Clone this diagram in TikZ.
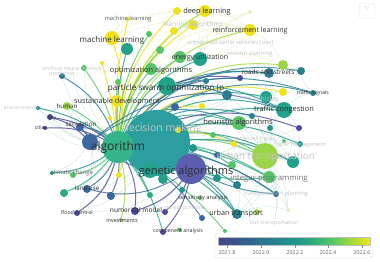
\documentclass[tikz,border=0pt]{standalone}
\usepackage{fontspec}
\setmainfont{Open Sans}
\pgfdeclarelayer{back}
\pgfdeclarelayer{edges}
\pgfsetlayers{back,edges,main}
\definecolor{v0}{HTML}{414487}
\definecolor{v1}{HTML}{39568C}
\definecolor{v2}{HTML}{2F6C8E}
\definecolor{v3}{HTML}{26828E}
\definecolor{v4}{HTML}{1F978B}
\definecolor{v5}{HTML}{2BAC7F}
\definecolor{v6}{HTML}{55C568}
\definecolor{v7}{HTML}{A0DA39}
\definecolor{v8}{HTML}{F2E51D}
\definecolor{cbig}{HTML}{2C9EA0}
\definecolor{calg}{HTML}{35B38B}
\definecolor{cgen}{HTML}{5C5DAE}
\definecolor{cyel}{HTML}{EDE21C}
\definecolor{clime}{HTML}{9AD545}
\definecolor{cgrn}{HTML}{55C366}
\definecolor{cteal}{HTML}{22A18B}
\definecolor{cdt}{HTML}{2D7A95}
\definecolor{cblu}{HTML}{3D67A0}
\definecolor{cpur}{HTML}{4A489C}
\definecolor{fedge}{HTML}{C9E4E4}
\definecolor{fyel}{HTML}{ECEFC2}
\definecolor{fad}{HTML}{C4C4C4}
\pgfdeclarehorizontalshading{vir}{100bp}{color(0bp)=(v0); color(25bp)=(v0); color(31.25bp)=(v1); color(37.5bp)=(v2); color(43.75bp)=(v3); color(50bp)=(v4); color(56.25bp)=(v5); color(62.5bp)=(v6); color(68.75bp)=(v7); color(75bp)=(v8); color(100bp)=(v8)}
\newcommand\fs[1]{\fontsize{#1}{#1}\selectfont}
\tikzset{
  nd/.style={circle,inner sep=0pt,outer sep=0pt,draw=none},
  lb/.style={inner sep=0pt,text=black!82},
  fl/.style={inner sep=0pt,text=fad},
  ed/.style={line width=1pt,opacity=0.8},
  fe/.style={line width=0.35pt,draw=fedge},
  fy/.style={line width=0.35pt,draw=fyel},
}
\newcommand\N[5]{\node[nd,minimum size=#4pt,fill=#5] (#1) at (#2,#3) {};}
\newcommand\E[4]{\draw[ed,draw=#3] (#1) to[bend left=#4] (#2);}
\newcommand\F[3]{\draw[#3] (#1) to[bend left=18] (#2);}
\begin{document}
\begin{tikzpicture}[x=1pt,y=-1pt]
\begin{pgfonlayer}{back}
\fill[white] (0,0) rectangle (380,262);
\end{pgfonlayer}
\useasboundingbox (0,0) rectangle (380,262);
% ---------- nodes ----------
\N{B}{157}{143}{66}{cbig}
\N{A}{118}{147}{32}{calg}
\N{G}{191}{169}{30}{cgen}
\N{dbl}{90}{142}{16}{cblu}
\N{U}{265}{156}{26}{clime}
\N{P}{167}{86}{18}{cteal}
\N{opt}{151}{69}{12}{cgrn}
\N{en}{200}{59}{14}{cteal}
\N{ml}{112}{38}{14}{cyel}
\N{mls}{128}{19}{4}{cyel}
\N{t127}{127}{49}{12}{cteal}
\N{g149}{149}{34}{6}{cgrn}
\N{g160}{160}{50}{8}{v6}
\N{g180}{180}{57}{12}{cgrn}
\N{y177}{177}{11}{8}{cyel}
\N{y174}{174}{31}{8}{cyel}
\N{y193}{193}{25}{10}{cyel}
\N{dl}{205}{11}{12}{cyel}
\N{rl}{250}{30}{12}{cyel}
\N{fy1}{250}{12}{4}{fyel}
\N{l283}{283}{65}{10}{clime}
\N{rs}{269}{73}{10}{cdt}
\N{t301}{301}{71}{8}{v3}
\N{p240}{240}{78}{6}{cpur}
\N{t206}{206}{81}{6}{v3}
\N{l84}{84}{68}{6}{v6}
\N{b62}{62}{76}{6}{cdt}
\N{g118}{118}{82}{6}{v6}
\N{y102}{102}{63}{4}{cyel}
\N{sd}{117}{101}{12}{cyel}
\N{hu}{67}{106}{8}{clime}
\N{env}{38}{108}{4}{v4}
\N{y110}{110}{118}{4}{cyel}
\N{city}{50}{117}{6}{cpur}
\N{cit}{45}{128}{4}{cpur}
\N{sim}{80}{127}{8}{cblu}
\N{b175}{175}{107}{8}{cblu}
\N{y178}{178}{130}{6}{cyel}
\N{ts}{313}{93}{6}{v3}
\N{y283}{283}{92}{8}{cyel}
\N{t266}{266}{97}{12}{cteal}
\N{d227}{227}{95}{10}{cdt}
\N{tc}{284}{110}{16}{cteal}
\N{y202}{202}{106}{6}{cyel}
\N{t252}{252}{116}{6}{v3}
\N{p299}{299}{128}{6}{cpur}
\N{ha}{239}{123}{14}{cgrn}
\N{t270}{270}{128}{6}{v4}
\N{tm}{300}{144}{6}{v4}
\N{g284}{284}{141}{4}{v6}
\N{y234}{234}{144}{6}{cyel}
\N{t293}{293}{162}{12}{cteal}
\N{g232}{232}{165}{8}{cgrn}
\N{b217}{217}{155}{6}{cblu}
\N{t193}{193}{148}{8}{v4}
\N{g213}{213}{135}{6}{v6}
\N{ip}{269}{177}{12}{cgrn}
\N{t237}{237}{185}{8}{v3}
\N{t217}{217}{178}{8}{v4}
\N{tp}{276}{194}{6}{v2}
\N{ut}{237}{214}{10}{v3}
\N{l257}{257}{212}{6}{clime}
\N{b202}{202}{218}{6}{cblu}
\N{fy2}{288}{210}{4}{fyel}
\N{cb}{163}{232}{6}{cpur}
\N{g180b}{180}{230}{4}{v6}
\N{g225}{225}{231}{4}{v6}
\N{cc}{52}{173}{4}{v4}
\N{g73}{73}{175}{6}{v6}
\N{g64}{64}{193}{8}{v5}
\N{lu}{87}{189}{8}{cblu}
\N{b111}{111}{196}{8}{cblu}
\N{y119}{119}{175}{6}{cyel}
\N{fc}{77}{213}{6}{cpur}
\N{nm}{135}{211}{8}{cpur}
\N{p165}{165}{212}{6}{cpur}
\N{inv}{121}{220}{4}{clime}
\N{g150}{150}{195}{6}{v5}
\N{t150}{150}{170}{16}{cteal}
\N{t163}{163}{179}{10}{cteal}
\N{t182}{182}{190}{6}{v4}
\N{g200}{200}{198}{4}{v6}
\N{b110}{110}{195}{6}{cblu}
% ---------- labels ----------
\node[fl,font=\fs{10.5}] (lB) at (162,129) {decision making};
\node[lb,font=\fs{12}] (lA) at (118,147) {algorithm};
\node[lb,font=\fs{11}] (lG) at (186,172) {genetic algorithms};
\node[fl,font=\fs{10}] (lU) at (266,157) {urban transportation};
\node[lb,font=\fs{8.2}] (lP) at (166,88) {particle swarm optimization (p};
\node[lb,font=\fs{7.4}] (lopt) at (151,71) {optimization algorithms};
\node[lb,font=\fs{7}] (len) at (200,58) {energy utilization};
\node[lb,font=\fs{8}] (lml) at (112,40) {machine learning};
\node[lb,font=\fs{5.8},text=black!65] (lmls) at (128,19) {machine learning};
\node[lb,font=\fs{7.4}] (ldl) at (207,12) {deep learning};
\node[lb,font=\fs{7}] (lrl) at (250,31) {reinforcement learning};
\node[fl,font=\fs{6.6}] (lla) at (193,25) {learning algorithms};
\node[fl,font=\fs{6}] (luav) at (230,43) {unmanned aerial vehicles (uav)};
\node[fl,font=\fs{5.9}] (lmp) at (250,54) {motion planning};
\node[lb,font=\fs{6.5}] (lrs) at (268,72) {roads and streets};
\node[lb,font=\fs{5.2}] (lts) at (313,93) {traffic signals};
\node[fl,font=\fs{6.8}] (lveh) at (266,99) {vehicles};
\node[lb,font=\fs{7.4}] (ltc) at (284,110) {traffic congestion};
\node[lb,font=\fs{7.5}] (lha) at (238,123) {heuristic algorithms};
\node[fl,font=\fs{5.4}] (lurt) at (255,138) {urban rail transit};
\node[fl,font=\fs{5.6}] (ltm) at (300,145) {traffic management};
\node[lb,font=\fs{7.8},text=black!55] (lip) at (269,179) {integer programming};
\node[fl,font=\fs{5.8}] (ltp) at (276,194) {transportation planning};
\node[lb,font=\fs{5.8}] (lsa) at (203,198) {sensitivity analysis};
\node[fl,font=\fs{5.4}] (lpp) at (185,208) {pareto principle};
\node[lb,font=\fs{7.2}] (lut) at (236,214) {urban transport};
\node[fl,font=\fs{5.6}] (lbt) at (274,223) {bus transportation};
\node[lb,font=\fs{6.6}] (lnm) at (136,210) {numerical model};
\node[lb,font=\fs{5.5}] (linv) at (122,221) {investments};
\node[lb,font=\fs{5.3}] (lcb) at (178,231) {cost benefit analysis};
\node[lb,font=\fs{5.3}] (lfc) at (77,212) {flood control};
\node[lb,font=\fs{6.2}] (llu) at (87,188) {land use};
\node[lb,font=\fs{6},text=black!60] (lcc) at (72,173) {climate change};
\node[lb,font=\fs{6.3}] (lsim) at (81,124) {simulation};
\node[lb,font=\fs{7.3}] (lsd) at (117,102) {sustainable development};
\node[lb,font=\fs{6.2}] (lhu) at (67,106) {human};
\node[fl,font=\fs{5}] (lenv) at (21,108) {environmental};
\node[lb,font=\fs{5.2}] (lcity) at (52,118) {city};
\node[lb,font=\fs{5.2}] (lcit) at (41,128) {cities};
\node[fl,font=\fs{5.4}] (lann) at (72,68) {artificial neural network};
\node[fl,font=\fs{5.4}] (lpred) at (62,74) {prediction};
% ---------- edges ----------
\begin{pgfonlayer}{edges}
% faint mesh
\foreach \a/\b in {U/tc,U/ha,U/ip,U/tp,U/ut,U/tm,U/t293,tc/ts,tc/rs,tc/t266,ha/tc,ha/ip,ip/tp,ip/ut,ut/l257,tp/fy2,U/fy2,ha/U,rs/t301,t266/U,G/U,G/ip,G/ut,G/tp,B/tc,B/U,B/ha,tm/t293,ts/t301,U/lbt,ip/lbt,G/t293,ha/t293,ha/tm,ha/tp,tc/tm,tc/t293,rs/U,rs/ha,d227/U,d227/tc,t252/ip,t252/U,y234/ip,y234/tp,g232/tp,g232/ut,t217/tp,t237/ip,b217/tm,U/p299,ip/fy2,ut/fy2,G/l257,B/ts,B/rs,B/t266,G/tm}
  {\F{\a}{\b}{fe}}
\foreach \a/\b in {dl/rl,rl/y193,dl/y193,fy1/rl,fy1/dl,rl/en,dl/en,y193/en,y177/dl,P/rl,P/dl,opt/rl,en/l283,rl/l283,ml/mls,ml/y177,ml/dl,ml/rl,t127/rl,g160/rl,y174/rl,opt/dl,P/fy1,en/fy1}
  {\F{\a}{\b}{fy}}
\foreach \a/\b in {A/lann,A/l84,A/b62,A/hu,A/env,A/city,A/cit,A/cc,A/g73,A/g64,A/lu,A/fc,sim/city,hu/env,dbl/cc,dbl/lu,dbl/hu,dbl/env,B/hu,B/lu,B/fc,dbl/fc,G/fc,G/inv}
  {\F{\a}{\b}{fe}}
% coloured links
\E{A}{ml}{cyel}{-12}
\E{A}{mls}{cyel}{8}
\E{A}{y177}{cyel}{20}
\E{A}{dl}{v7}{24}
\E{A}{y193}{cyel}{22}
\E{A}{y174}{cyel}{18}
\E{A}{rl}{v7}{28}
\E{A}{opt}{cgrn}{14}
\E{A}{en}{v5}{22}
\E{A}{P}{cteal}{12}
\E{A}{g149}{v6}{14}
\E{A}{g160}{v6}{16}
\E{A}{g180}{v6}{20}
\E{A}{t127}{cteal}{8}
\E{A}{l84}{v6}{-10}
\E{A}{b62}{cdt}{-18}
\E{A}{g118}{v6}{5}
\E{A}{y102}{cyel}{-4}
\E{A}{sd}{cyel}{5}
\E{A}{hu}{v6}{-8}
\E{A}{env}{v4}{-12}
\E{A}{city}{cpur}{-12}
\E{A}{cit}{cpur}{-14}
\E{A}{sim}{cblu}{-16}
\E{A}{cc}{v4}{14}
\E{A}{g73}{v6}{14}
\E{A}{g64}{v5}{14}
\E{A}{lu}{cblu}{16}
\E{A}{b111}{cblu}{12}
\E{A}{fc}{cpur}{20}
\E{A}{nm}{cpur}{16}
\E{A}{inv}{clime}{12}
\E{A}{y119}{cyel}{12}
\E{A}{rs}{v3}{30}
\E{A}{t301}{v3}{30}
\E{A}{p240}{cpur}{28}
\E{A}{l283}{v7}{30}
\E{A}{tc}{v4}{28}
\E{A}{ts}{v3}{28}
\E{A}{t266}{v4}{28}
\E{A}{ha}{v5}{26}
\E{A}{y202}{cyel}{24}
\E{A}{y283}{cyel}{28}
\E{A}{U}{v6}{24}
\E{A}{t293}{v4}{22}
\E{A}{ip}{v5}{18}
\E{A}{tp}{v3}{16}
\E{A}{ut}{v4}{14}
\E{A}{t237}{v3}{16}
\E{A}{cb}{v5}{10}
\E{A}{g225}{v6}{10}
\E{A}{b202}{cblu}{12}
\E{A}{g150}{v5}{8}
\E{A}{p299}{cpur}{24}
\E{A}{tm}{v4}{22}
\E{A}{y234}{cyel}{22}
\E{A}{t252}{v4}{26}
\E{dbl}{sim}{cblu}{-12}
\E{dbl}{city}{cpur}{-14}
\E{dbl}{tc}{cblu}{30}
\E{dbl}{ha}{v3}{28}
\E{G}{cb}{cpur}{14}
\E{G}{ut}{v3}{12}
\E{G}{ip}{v5}{-12}
\E{G}{tp}{v3}{-10}
\E{G}{p165}{cpur}{12}
\E{G}{nm}{cpur}{16}
\E{G}{lu}{cblu}{22}
\E{G}{sim}{cblu}{26}
\E{P}{rs}{v3}{12}
\E{P}{tc}{v4}{14}
\E{P}{d227}{cdt}{12}
\E{P}{ts}{v3}{14}
\E{P}{p240}{cpur}{12}
\E{B}{ha}{v5}{12}
\E{B}{U}{v6}{12}
\E{B}{t293}{v4}{14}
\E{B}{tc}{v4}{16}
\E{B}{ip}{v5}{8}
\E{B}{g232}{v5}{10}
\E{B}{t217}{v4}{8}
\E{B}{tp}{v3}{8}
\E{B}{ut}{v4}{6}
\end{pgfonlayer}
% ---------- legend ----------
\node[draw=black!15,rounded corners=3pt,fill=white,minimum width=158pt,minimum height=25pt,inner sep=0pt] (leg) at (294,245.5) {};
\shade[shading=vir] (218,237) rectangle (370,245);
\draw[black!25,line width=0.3pt] (218,237) rectangle (370,245);
\foreach \x/\t in {227/2021.8,261/2022.0,295/2022.2,328/2022.4,362/2022.6}{
  \draw[black!45,line width=0.3pt] (\x,245) -- (\x,247.5);
  \node[inner sep=0pt,text=black!60,font=\fs{5.4}] at (\x,252.5) {\t};
}
% ---------- corner icon ----------
\node[draw=black!10,rounded corners=2pt,minimum size=15pt,inner sep=0pt] (icon) at (367,11) {};
\node[inner sep=0pt,text=black!18,font=\fs{5}] at (367,9) {$\nabla$};
\end{tikzpicture}
\end{document}
